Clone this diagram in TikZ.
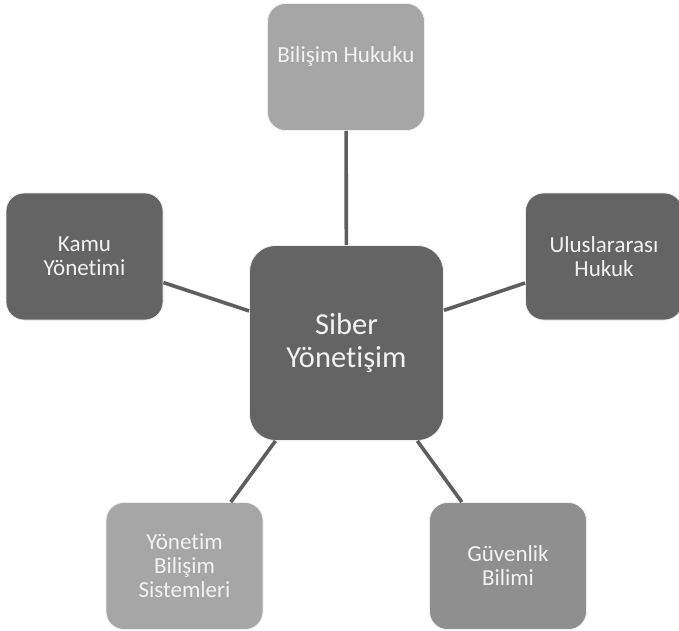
\documentclass[tikz,border=0pt]{standalone}
\usepackage{fontspec}
\setmainfont{Carlito}[Ligatures={NoCommon}]
\definecolor{DarkBox}{HTML}{646464}
\definecolor{MidBox}{HTML}{8F8F8F}
\definecolor{LightBox}{HTML}{A6A6A6}
\definecolor{LinkGray}{HTML}{5E5E5E}
\definecolor{TextWhite}{HTML}{F2F2F2}
\usetikzlibrary{positioning}

\begin{document}
\begin{tikzpicture}[
  x=1pt,y=-1pt,
  every node/.style={font=\fontsize{23}{24}\selectfont,align=center,text=TextWhite},
  box/.style={draw=white!88!gray,line width=0.8pt,rounded corners=18pt,minimum width=157pt,minimum height=127pt,inner sep=2pt},
  hub/.style={box,rounded corners=26pt,minimum width=194pt,minimum height=195pt,fill=DarkBox,font=\fontsize{30.5}{33}\selectfont},
  link/.style={draw=LinkGray,line width=3.6pt}
]
\useasboundingbox (0,0) rectangle (679,630);
\node[hub] (sy) at (346.5,343) {Siber\\Yönetişim};
\node[box,fill=LightBox] (bh) at (346,67) {Bilişim Hukuku\\[-7pt] \strut};
\node[box,fill=DarkBox] (uh) at (604,256.5) {Uluslararası\\Hukuk};
\node[box,fill=DarkBox] (ky) at (84.5,256.5) {Kamu\\Yönetimi};
\node[box,fill=LightBox] (ybs) at (184.5,566) {Yönetim\\Bilişim\\Sistemleri};
\node[box,fill=MidBox] (gb) at (508,566) {Güvenlik\\Bilimi};
\foreach \n in {bh,uh,ky,ybs,gb}
  \draw[link] (sy) -- (\n);
\end{tikzpicture}
\end{document}
